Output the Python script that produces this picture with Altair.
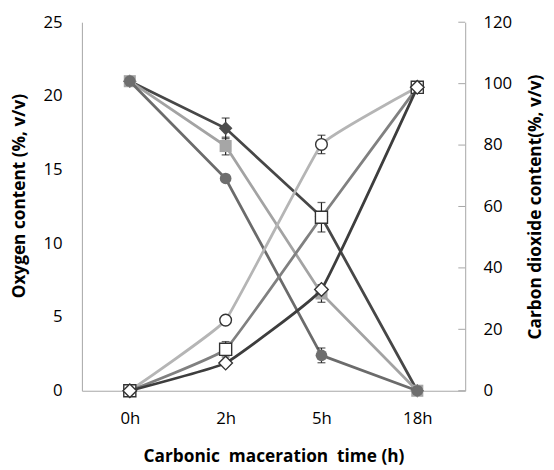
import altair as alt
import pandas as pd

times = ["0h", "2h", "5h", "18h"]

o2_diamond = [21.0, 17.8, 11.8, 0.0]
o2_diamond_err = [0.0, 0.7, 0.0, 0.0]
o2_square = [21.0, 16.6, 6.6, 0.0]
o2_square_err = [0.0, 0.6, 0.6, 0.0]
o2_circle = [21.0, 14.4, 2.4, 0.0]
o2_circle_err = [0.0, 0.0, 0.5, 0.0]

co2_circle = [0.0, 23.0, 80.2, 98.8]
co2_circle_err = [0.0, 0.0, 3.0, 0.0]
co2_square = [0.0, 13.5, 56.5, 98.8]
co2_square_err = [0.0, 2.5, 4.8, 0.0]
co2_diamond = [0.0, 9.0, 33.0, 98.8]
co2_diamond_err = [0.0, 0.0, 0.0, 0.0]

o2_ticks = [0, 5, 10, 15, 20, 25]
co2_ticks = [0, 20, 40, 60, 80, 100, 120]

W, H = 389, 374
FONT = "Open Sans"
AXIS_GRAY = "#a6a6a6"
LABEL_SIZE = 17
TITLE_SIZE = 17.5

xscale = alt.Scale(type="point", domain=times, padding=0.5)
x_axis = alt.Axis(
    title="Carbonic \u00a0maceration \u00a0time (h)", grid=False, ticks=False,
    tickSize=0, domainColor=AXIS_GRAY, domainWidth=1, labelPadding=20,
    labelAngle=0, labelFont=FONT, labelFontSize=LABEL_SIZE, labelColor="#000",
    titleFont=FONT, titleFontSize=TITLE_SIZE, titleFontWeight="bold",
    titleColor="#000", titleY=67, titleBaseline="middle",
)
X = alt.X("t:N", sort=times, scale=xscale, axis=x_axis)

o2_scale = alt.Scale(domain=[0, 25], nice=False)
co2_scale = alt.Scale(domain=[0, 120], nice=False)

o2_axis = alt.Axis(
    values=o2_ticks, title="Oxygen content (%, v/v)", grid=False, ticks=False,
    tickSize=0, domainColor=AXIS_GRAY, domainWidth=1, labelPadding=20,
    labelFont=FONT, labelFontSize=LABEL_SIZE, labelColor="#000",
    titleFont=FONT, titleFontSize=TITLE_SIZE, titleFontWeight="bold",
    titleColor="#000", titleAngle=270, titleX=-63, titleY=176,
    titleAlign="center", titleBaseline="middle",
)
co2_axis = alt.Axis(
    orient="right", values=co2_ticks, title="Carbon dioxide content(%, v/v)",
    grid=False, ticks=False, tickSize=0, domainColor=AXIS_GRAY, domainWidth=1,
    labelPadding=18, labelFont=FONT, labelFontSize=LABEL_SIZE,
    labelColor="#000", titleFont=FONT, titleFontSize=TITLE_SIZE,
    titleFontWeight="bold", titleColor="#000", titleAngle=270, titleX=71,
    titleY=187, titleAlign="center", titleBaseline="middle",
)


def series_layers(vals, errs, scale, axis, shape, line_color, fill, stroke,
                  size, interp):
    df = pd.DataFrame({"t": times, "y": vals, "e": errs})
    df["lo"] = df["y"] - df["e"]
    df["hi"] = df["y"] + df["e"]
    base = alt.Chart(df)
    Y = alt.Y("y:Q", scale=scale, axis=axis)
    line = base.mark_line(color=line_color, strokeWidth=2.8,
                          interpolate=interp, tension=0.75).encode(x=X, y=Y)
    eb = base.transform_filter("datum.e > 0")
    rule = eb.mark_rule(color="#222", strokeWidth=1.2).encode(
        x=X, y=alt.Y("lo:Q", scale=scale, axis=axis), y2="hi:Q")
    cap_lo = eb.mark_tick(color="#222", size=8, thickness=1.3).encode(
        x=X, y=alt.Y("lo:Q", scale=scale, axis=axis))
    cap_hi = eb.mark_tick(color="#222", size=8, thickness=1.3).encode(
        x=X, y=alt.Y("hi:Q", scale=scale, axis=axis))
    pts = base.mark_point(shape=shape, filled=True, fill=fill, stroke=stroke,
                          strokeWidth=1.4 if stroke else 0, size=size,
                          opacity=1).encode(x=X, y=Y)
    return [line, rule, cap_lo, cap_hi, pts]


o2_layers = []
o2_layers += series_layers(o2_diamond, o2_diamond_err, o2_scale, o2_axis,
                           "diamond", "#474747", "#4d4d4d", None, 190, "linear")
o2_layers += series_layers(o2_square, o2_square_err, o2_scale, o2_axis,
                           "square", "#a3a3a3", "#a6a6a6", None, 150, "linear")
o2_layers += series_layers(o2_circle, o2_circle_err, o2_scale, o2_axis,
                           "circle", "#6b6b6b", "#6e6e6e", None, 140, "linear")

co2_tick_df = pd.DataFrame({"y": co2_ticks})
co2_tick_rules = alt.Chart(co2_tick_df).mark_rule(
    color=AXIS_GRAY, strokeWidth=1).encode(
    y=alt.Y("y:Q", scale=co2_scale, axis=co2_axis),
    x=alt.value(W - 7), x2=alt.value(W))

co2_layers = [co2_tick_rules]
co2_layers += series_layers(co2_circle, co2_circle_err, co2_scale, co2_axis,
                            "circle", "#b5b5b5", "#ffffff", "#333333", 140,
                            "cardinal")
co2_layers += series_layers(co2_square, co2_square_err, co2_scale, co2_axis,
                            "square", "#808080", "#ffffff", "#333333", 150,
                            "cardinal")
co2_layers += series_layers(co2_diamond, co2_diamond_err, co2_scale, co2_axis,
                            "diamond", "#3d3d3d", "#ffffff", "#333333", 190,
                            "cardinal")

chart = alt.layer(
    alt.layer(*o2_layers),
    alt.layer(*co2_layers),
).resolve_scale(y="independent").properties(
    width=W, height=H,
    padding={"left": 75, "top": 11, "right": 82, "bottom": 77},
    autosize=alt.AutoSizeParams(type="none"),
    background="white",
).configure_view(stroke=None)

chart.save("out.html", embed_options={"renderer": "svg", "actions": False})
